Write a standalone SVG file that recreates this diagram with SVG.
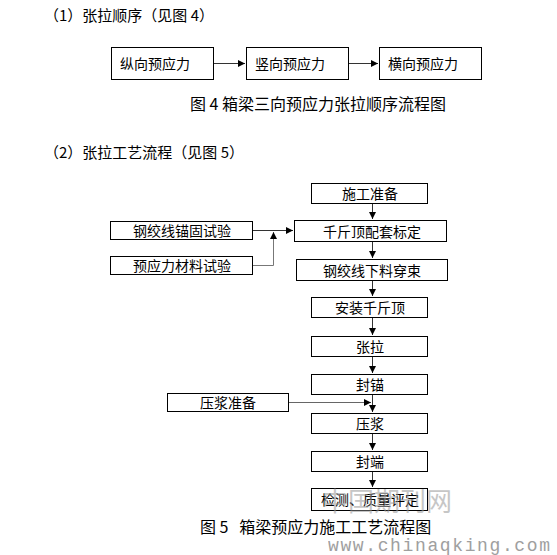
<svg xmlns="http://www.w3.org/2000/svg" width="557" height="555" viewBox="0 0 557 555">
<style>
.b{fill:#fff;stroke:#000;stroke-width:1}
.t{font-family:"Noto Sans CJK SC","Liberation Sans",sans-serif;font-size:14px;fill:#000}
.c{text-anchor:middle}
.h{font-family:"Noto Sans CJK SC","Liberation Serif",serif;font-size:15px;fill:#000}
.l{stroke:#333;stroke-width:1;fill:none}
</style>
<defs>
<marker id="a" markerWidth="8" markerHeight="8" refX="7" refY="4" orient="auto" markerUnits="userSpaceOnUse">
<path d="M0,0.5 L7,4 L0,7.5 Z" fill="#000"/>
</marker>
</defs>
<rect width="557" height="555" fill="#fff"/>
<text class="h" x="44" y="21">（1）张拉顺序（见图 4）</text>
<g id="n1"><rect class="b" x="111.5" y="47.5" width="102" height="32"/><text class="t" x="120" y="69">纵向预应力</text></g>
<g id="n2"><rect class="b" x="246.5" y="47.5" width="102" height="32"/><text class="t" x="255" y="69">竖向预应力</text></g>
<g id="n3"><rect class="b" x="379.5" y="47.5" width="102" height="32"/><text class="t" x="388" y="69">横向预应力</text></g>
<text class="h" x="190" y="110" style="font-size:16px">图 4 箱梁三向预应力张拉顺序流程图</text>
<text class="h" x="44" y="158">（2）张拉工艺流程（见图 5）</text>
<g id="s1"><rect class="b" x="311.5" y="183.5" width="116" height="20"/><text class="t c" x="370" y="199">施工准备</text></g>
<g id="s2"><rect class="b" x="294.5" y="220.5" width="152" height="21"/><text class="t c" x="372" y="237">千斤顶配套标定</text></g>
<g id="s3"><rect class="b" x="296.5" y="259.5" width="151" height="21"/><text class="t c" x="372" y="276">钢绞线下料穿束</text></g>
<g id="s4"><rect class="b" x="311.5" y="297.5" width="116" height="20"/><text class="t c" x="370" y="313">安装千斤顶</text></g>
<g id="s5"><rect class="b" x="311.5" y="336.5" width="116" height="20"/><text class="t c" x="370" y="352">张拉</text></g>
<g id="s6"><rect class="b" x="311.5" y="374.5" width="116" height="20"/><text class="t c" x="370" y="390">封锚</text></g>
<g id="s7"><rect class="b" x="311.5" y="413.5" width="116" height="20"/><text class="t c" x="370" y="429">压浆</text></g>
<g id="s8"><rect class="b" x="311.5" y="451.5" width="116" height="20"/><text class="t c" x="370" y="467">封端</text></g>
<g id="s9"><rect class="b" x="311.5" y="488.5" width="116" height="22"/><text class="t c" x="370" y="505">检测、质量评定</text></g>
<g id="m1"><rect class="b" x="110.5" y="221.5" width="142" height="18"/><text class="t c" x="182" y="236">钢绞线锚固试验</text></g>
<g id="m2"><rect class="b" x="110.5" y="256.5" width="142" height="18"/><text class="t c" x="182" y="271">预应力材料试验</text></g>
<g id="m3"><rect class="b" x="167.5" y="393.5" width="121" height="18"/><text class="t c" x="228" y="408">压浆准备</text></g>
<g id="connectors">
<line class="l" x1="214" y1="63.5" x2="245" y2="63.5" marker-end="url(#a)"/>
<line class="l" x1="349" y1="63.5" x2="378" y2="63.5" marker-end="url(#a)"/>
<line class="l" x1="372.5" y1="204" x2="372.5" y2="219" marker-end="url(#a)"/>
<line class="l" x1="372.5" y1="242" x2="372.5" y2="258" marker-end="url(#a)"/>
<line class="l" x1="372.5" y1="281" x2="372.5" y2="296" marker-end="url(#a)"/>
<line class="l" x1="372.5" y1="318" x2="372.5" y2="335" marker-end="url(#a)"/>
<line class="l" x1="372.5" y1="357" x2="372.5" y2="373" marker-end="url(#a)"/>
<line class="l" x1="372.5" y1="395" x2="372.5" y2="412" marker-end="url(#a)"/>
<line class="l" x1="372.5" y1="434" x2="372.5" y2="450" marker-end="url(#a)"/>
<line class="l" x1="372.5" y1="472" x2="372.5" y2="487" marker-end="url(#a)"/>
<line class="l" x1="253" y1="230.5" x2="293" y2="230.5" marker-end="url(#a)"/>
<polyline class="l" style="stroke:#777" points="253,265.5 273.5,265.5 273.5,232" marker-end="url(#a)"/>
<line class="l" style="stroke:#666" x1="289" y1="402.5" x2="371" y2="402.5" marker-end="url(#a)"/>
</g>
<text class="h" x="200" y="533" style="font-size:16px" xml:space="preserve">图 5   箱梁预应力施工工艺流程图</text>
<text x="322" y="511" style="font-family:'Noto Sans CJK SC',sans-serif;font-size:26px;fill:#999;opacity:0.55">中国期刊网</text>
<text x="328" y="551" textLength="222" lengthAdjust="spacing" style="font-family:'Liberation Mono',monospace;font-size:18px;fill:#888;opacity:0.8">www.chinaqking.com</text>
</svg>
